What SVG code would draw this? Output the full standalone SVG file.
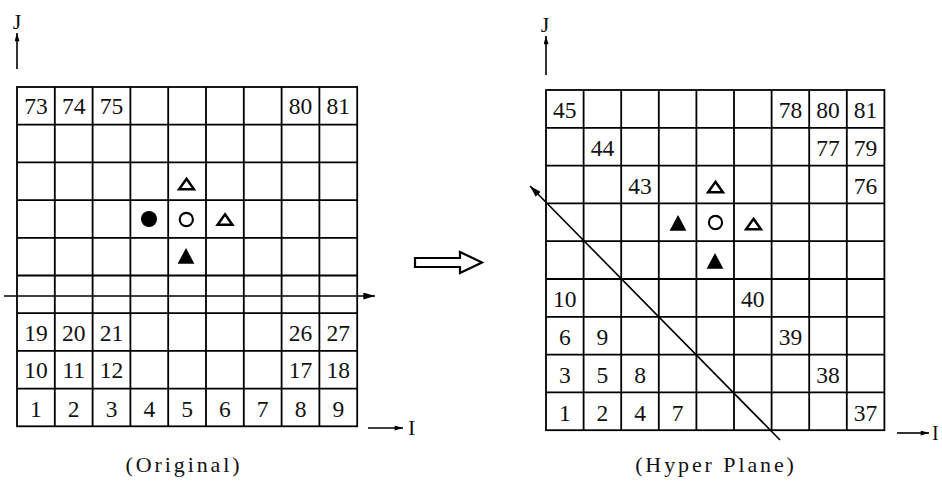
<svg xmlns="http://www.w3.org/2000/svg" width="942" height="491" viewBox="0 0 942 491">
<style>
.g{fill:none;stroke:#000;stroke-width:1.8}
.n{font-family:"Liberation Serif","Times New Roman",serif;font-size:23.5px;fill:#111;text-anchor:middle}
.ax{font-family:"Liberation Serif","Times New Roman",serif;font-size:22px;fill:#111}
.cap{font-family:"Liberation Serif","Times New Roman",serif;font-size:22px;fill:#111;text-anchor:middle;letter-spacing:2.9px}
.l{stroke:#000;stroke-width:1.6;fill:none}
.ot{fill:#fff;stroke:#000;stroke-width:2.5;stroke-linejoin:miter}
.ft{fill:#000}
.oc{fill:#fff;stroke:#000;stroke-width:2.1}
</style>
<defs>
<marker id="ah" viewBox="0 0 10 6" refX="10" refY="3" markerWidth="13" markerHeight="5" markerUnits="userSpaceOnUse" orient="auto"><path d="M0,0 L10,3 L0,6 Z" fill="#000"/></marker>
<marker id="ahL" viewBox="0 0 10 6" refX="10" refY="3" markerWidth="18" markerHeight="7" markerUnits="userSpaceOnUse" orient="auto"><path d="M0,0 L10,3 L0,6 Z" fill="#000"/></marker>
<path id="otri" class="ot" d="M0,-5.2 L7.4,5.2 L-7.4,5.2 Z"/>
<path id="ftri" class="ft" d="M0,-8 L8.4,7.8 L-8.4,7.8 Z"/>
</defs>

<g id="original-grid">
<rect class="g" x="17" y="87" width="340.2" height="339.3"/>
<path class="g" d="M54.8,87V426.3M92.6,87V426.3M130.4,87V426.3M168.2,87V426.3M206,87V426.3M243.8,87V426.3M281.6,87V426.3M319.4,87V426.3
M17,124.7H357.2M17,162.4H357.2M17,200.1H357.2M17,237.8H357.2M17,275.5H357.2M17,313.2H357.2M17,350.9H357.2M17,388.6H357.2"/>
<g id="original-labels">
<text class="n" x="35.9" y="114">73</text><text class="n" x="73.7" y="114">74</text><text class="n" x="111.5" y="114">75</text><text class="n" x="300.5" y="114">80</text><text class="n" x="338.3" y="114">81</text>
<text class="n" x="35.9" y="340.5">19</text><text class="n" x="73.7" y="340.5">20</text><text class="n" x="111.5" y="340.5">21</text><text class="n" x="300.5" y="340.5">26</text><text class="n" x="338.3" y="340.5">27</text>
<text class="n" x="35.9" y="378.3">10</text><text class="n" x="73.7" y="378.3">11</text><text class="n" x="111.5" y="378.3">12</text><text class="n" x="300.5" y="378.3">17</text><text class="n" x="338.3" y="378.3">18</text>
<text class="n" x="35.9" y="416.5">1</text><text class="n" x="73.7" y="416.5">2</text><text class="n" x="111.5" y="416.5">3</text><text class="n" x="149.3" y="416.5">4</text><text class="n" x="187.1" y="416.5">5</text><text class="n" x="224.9" y="416.5">6</text><text class="n" x="262.7" y="416.5">7</text><text class="n" x="300.5" y="416.5">8</text><text class="n" x="338.3" y="416.5">9</text>
</g>
<g id="original-marks">
<use href="#otri" x="186.5" y="184"/>
<circle class="ft" cx="149" cy="219" r="8"/>
<circle class="oc" cx="186.3" cy="219.5" r="6.6"/>
<use href="#otri" x="225" y="219.5"/>
<use href="#ftri" x="186" y="256"/>
</g>
<text class="ax" x="17" y="29" text-anchor="middle">J</text>
<text class="ax" x="408" y="435">I</text>
<text class="cap" x="184" y="472">(Original)</text>
</g>

<g id="hyper-grid">
<rect class="g" x="546" y="90" width="338.4" height="340.2"/>
<path class="g" d="M583.6,90V430.2M621.2,90V430.2M658.8,90V430.2M696.4,90V430.2M734,90V430.2M771.6,90V430.2M809.2,90V430.2M846.8,90V430.2
M546,127.8H884.4M546,165.6H884.4M546,203.4H884.4M546,241.2H884.4M546,279H884.4M546,316.8H884.4M546,354.6H884.4M546,392.4H884.4"/>
<g id="hyper-labels">
<text class="n" x="564.8" y="118">45</text><text class="n" x="790.4" y="118">78</text><text class="n" x="828" y="118">80</text><text class="n" x="865.6" y="118">81</text>
<text class="n" x="602.4" y="155.8">44</text><text class="n" x="828" y="155.8">77</text><text class="n" x="865.6" y="155.8">79</text>
<text class="n" x="640" y="193.6">43</text><text class="n" x="865.6" y="193.6">76</text>
<text class="n" x="564.8" y="306.9">10</text><text class="n" x="752.8" y="306.9">40</text>
<text class="n" x="564.8" y="344.7">6</text><text class="n" x="602.4" y="344.7">9</text><text class="n" x="790.4" y="344.7">39</text>
<text class="n" x="564.8" y="382.5">3</text><text class="n" x="602.4" y="382.5">5</text><text class="n" x="640" y="382.5">8</text><text class="n" x="828" y="382.5">38</text>
<text class="n" x="564.8" y="420.5">1</text><text class="n" x="602.4" y="420.5">2</text><text class="n" x="640" y="420.5">4</text><text class="n" x="677.6" y="420.5">7</text><text class="n" x="865.6" y="420.5">37</text>
</g>
<g id="hyper-marks">
<use href="#otri" x="715.5" y="187"/>
<use href="#ftri" x="678" y="223"/>
<circle class="oc" cx="715.5" cy="222.5" r="6.6"/>
<use href="#otri" x="753.5" y="224"/>
<use href="#ftri" x="715" y="261"/>
</g>
<text class="ax" x="545" y="32" text-anchor="middle">J</text>
<text class="ax" x="932" y="440" style="font-size:20px">I</text>
<text class="cap" x="716" y="472">(Hyper Plane)</text>
</g>

<g id="connectors">
<line class="l" x1="17" y1="69" x2="17" y2="33" marker-end="url(#ah)"/>
<line class="l" x1="4" y1="296" x2="375" y2="296" marker-end="url(#ahL)"/>
<line class="l" x1="368" y1="428" x2="403" y2="428" marker-end="url(#ah)"/>
<line class="l" x1="546" y1="75" x2="546" y2="36" marker-end="url(#ah)"/>
<line class="l" x1="897" y1="433" x2="929" y2="433" marker-end="url(#ah)"/>
<line class="l" x1="780" y1="440" x2="530" y2="186" marker-end="url(#ahL)"/>
<polygon id="transform-arrow" points="415,258 460,258 460,252 482,262.5 460,273 460,267 415,267" fill="#fff" stroke="#000" stroke-width="2.2" stroke-linejoin="miter"/>
</g>
</svg>
